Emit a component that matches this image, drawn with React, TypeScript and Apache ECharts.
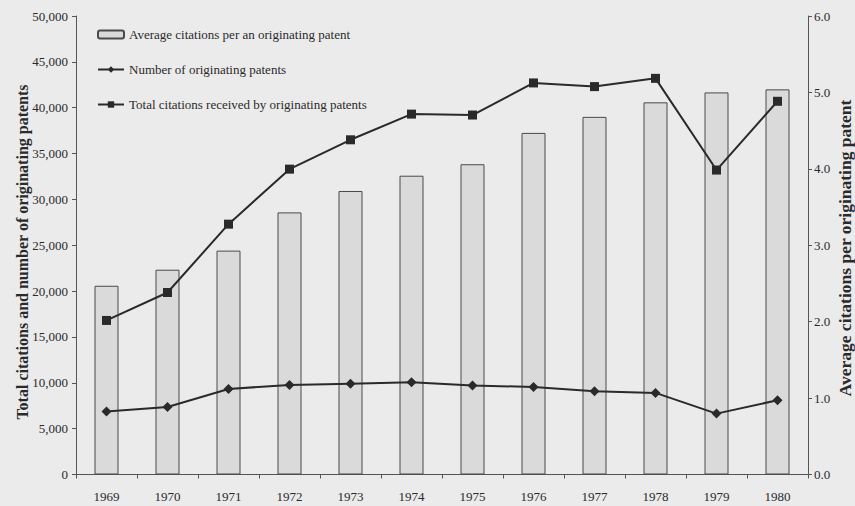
import React, { useEffect, useRef } from "react";
import * as echarts from "echarts";

const years = ["1969", "1970", "1971", "1972", "1973", "1974", "1975", "1976", "1977", "1978", "1979", "1980"];
const avgCitations = [2.47, 2.68, 2.93, 3.43, 3.71, 3.91, 4.06, 4.47, 4.68, 4.87, 5.0, 5.04];
const numPatents = [6860, 7370, 9330, 9770, 9910, 10050, 9700, 9550, 9080, 8900, 6640, 8100];
const totalCitations = [16800, 19850, 27300, 33300, 36500, 39300, 39200, 42700, 42300, 43200, 33200, 40700];

const seriesNames = [
  "Average citations per an originating patent",
  "Number of originating patents",
  "Total citations received by originating patents",
];

const leftTitle = "Total citations and number of originating patents";
const rightTitle = "Average citations per originating patent";

const FONT = "'Liberation Serif', 'DejaVu Serif', serif";
const INK = "#2a2a2a";
const AXIS = "#555555";

export default function App() {
  const ref = useRef<HTMLDivElement>(null);

  useEffect(() => {
    if (!ref.current) return;
    const chart = echarts.init(ref.current, undefined, { renderer: "svg" });
    chart.setOption({
      animation: false,
      backgroundColor: "#ebebeb",
      textStyle: { fontFamily: FONT, color: INK },
      grid: { left: 76, right: 47, top: 16, bottom: 31.5, containLabel: false },
      legend: {
        orient: "vertical",
        left: 97,
        top: 28,
        padding: 0,
        itemWidth: 26,
        itemHeight: 8,
        itemGap: 22,
        data: seriesNames,
        textStyle: { fontFamily: FONT, fontSize: 13, color: INK },
      },
      graphic: [
        {
          type: "text",
          x: 22,
          y: 252,
          rotation: Math.PI / 2,
          style: {
            text: leftTitle,
            fontFamily: FONT,
            fontSize: 16,
            fontWeight: "bold",
            fill: INK,
            align: "center",
            verticalAlign: "middle",
          },
        },
        {
          type: "text",
          x: 845,
          y: 248,
          rotation: Math.PI / 2,
          style: {
            text: rightTitle,
            fontFamily: FONT,
            fontSize: 17.5,
            fontWeight: "bold",
            fill: INK,
            align: "center",
            verticalAlign: "middle",
          },
        },
      ],
      xAxis: {
        type: "category",
        data: years,
        axisLine: { lineStyle: { color: AXIS, width: 1 } },
        axisTick: { show: true, alignWithLabel: false, length: 4, lineStyle: { color: AXIS } },
        axisLabel: { fontFamily: FONT, fontSize: 13, color: INK, margin: 15 },
      },
      yAxis: [
        {
          type: "value",
          min: 0,
          max: 50000,
          interval: 5000,
          position: "left",
          axisLine: { show: true, lineStyle: { color: AXIS } },
          axisTick: { show: true, length: 4, lineStyle: { color: AXIS } },
          splitLine: { show: false },
          axisLabel: {
            fontFamily: FONT,
            fontSize: 13,
            color: INK,
            margin: 8,
            formatter: (v: number) => v.toLocaleString("en-US"),
          },
        },
        {
          type: "value",
          min: 0,
          max: 6,
          interval: 1,
          position: "right",
          axisLine: { show: true, lineStyle: { color: AXIS } },
          axisTick: { show: true, length: 4, lineStyle: { color: AXIS } },
          splitLine: { show: false },
          axisLabel: {
            fontFamily: FONT,
            fontSize: 13,
            color: INK,
            margin: 6,
            formatter: (v: number) => v.toFixed(1),
          },
        },
      ],
      series: [
        {
          name: seriesNames[0],
          type: "bar",
          yAxisIndex: 1,
          data: avgCitations,
          barWidth: 24,
          itemStyle: { color: "#dadada", borderColor: "#4a4a4a", borderWidth: 1 },
        },
        {
          name: seriesNames[1],
          type: "line",
          yAxisIndex: 0,
          data: numPatents,
          symbol: "diamond",
          symbolSize: 10,
          showAllSymbol: true,
          lineStyle: { color: INK, width: 2 },
          itemStyle: { color: INK },
        },
        {
          name: seriesNames[2],
          type: "line",
          yAxisIndex: 0,
          data: totalCitations,
          symbol: "rect",
          symbolSize: 9,
          showAllSymbol: true,
          lineStyle: { color: INK, width: 2 },
          itemStyle: { color: INK },
        },
      ],
    });
    return () => chart.dispose();
  }, []);

  return (
    <div
      ref={ref}
      style={{ position: "absolute", left: 0, top: 0, width: 855, height: 506 }}
    />
  );
}
